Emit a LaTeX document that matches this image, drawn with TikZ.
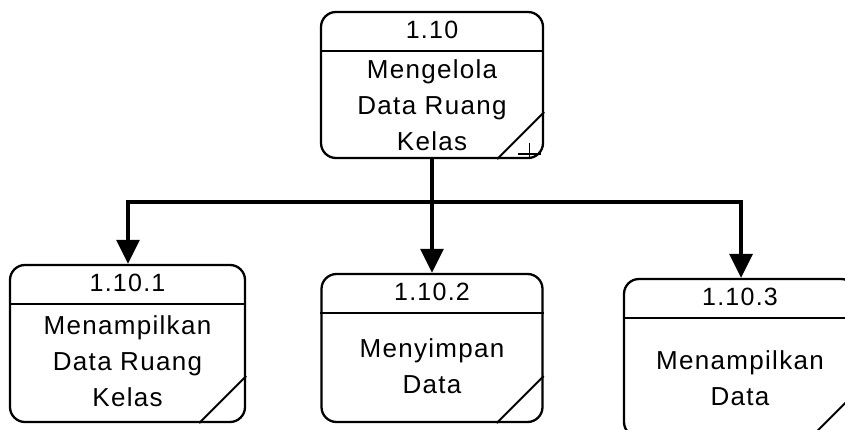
\documentclass[tikz,border=0pt]{standalone}
\usepackage{fontspec}
\setmainfont{Liberation Sans}[LetterSpace=5.0]
\usetikzlibrary{positioning,arrows.meta}

\begin{document}
\begin{tikzpicture}[x=1pt,y=-1pt,
process/.style={draw=black,
  line width=2.3pt,
  rounded corners=15pt,
  inner sep=0pt
},
number/.style={anchor=base,
  font=\fontsize{25}{36}\selectfont
},
label/.style={anchor=base,align=center,
  font=\fontsize{26}{36}\selectfont
},
flow/.style={line width=3.2pt,-{Triangle[length=24pt,width=23pt]}}]
\useasboundingbox (0,0) rectangle (845,430);

\node (p0) [process, minimum width=222pt, minimum height=146pt] at (432,85) {};

\node (p1) [process, minimum width=235pt, minimum height=157pt] at (127.5,343.5) {};

\node (p2) [process, minimum width=221pt, minimum height=148pt] at (432,348) {};

\node (p3) [process, minimum width=232pt, minimum height=158pt] at (740,358) {};

% header lines and corner marks
\foreach \p in {p0,p1,p2,p3} {
  \draw [line width=1.8pt] ([yshift=-40pt]\p.north west) -- ([yshift=-40pt]\p.north east);
  \draw [line width=2pt] ([xshift=-47pt]\p.south east) -- ([yshift=47pt]\p.south east);
}
\draw [line width=1.3pt] ([xshift=-26pt,yshift=5pt]p0.south east) -- ([xshift=-3pt,yshift=5pt]p0.south east)
  ([xshift=-15pt,yshift=16pt]p0.south east) -- ([xshift=-15pt]p0.south east);

\node (n0) [number] at ([yshift=-28pt]p0.north) {1.10};
\node (t0) [label] at ([yshift=-140pt]p0.north) {Mengelola\\Data Ruang\\Kelas};

\node (n1) [number] at ([yshift=-28pt]p1.north) {1.10.1};
\node (t1) [label] at ([yshift=-143pt]p1.north) {Menampilkan\\Data Ruang\\Kelas};

\node (n2) [number] at ([yshift=-28pt]p2.north) {1.10.2};
\node (t2) [label] at ([yshift=-121pt]p2.north) {Menyimpan\\Data};

\node (n3) [number] at ([yshift=-28pt]p3.north) {1.10.3};
\node (t3) [label] at ([yshift=-128pt]p3.north) {Menampilkan\\Data};

\coordinate (j1) at (128,202);
\coordinate (j3) at (741,202);

\draw [flow] (p0.south) -- (p2.north);
\draw [flow] (j3) -- (j1) -- (j1 |- p1.north);
\draw [flow] (j1) -- (j3) -- (j3 |- p3.north);
\end{tikzpicture}
\end{document}
